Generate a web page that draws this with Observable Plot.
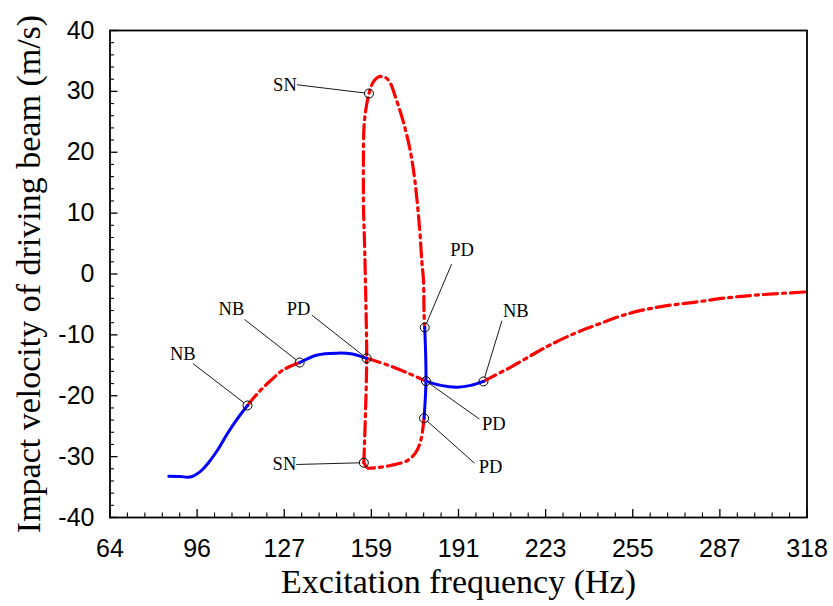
<!DOCTYPE html>
<html>
<head>
<meta charset="utf-8">
<script src="https://cdn.jsdelivr.net/npm/d3@7"></script>
<script src="https://cdn.jsdelivr.net/npm/@observablehq/plot@0.6"></script>
<style>
  html, body { margin: 0; padding: 0; background: #ffffff; }
  svg { display: block; }
</style>
</head>
<body>
<script>
// ---- Data (frequency in Hz, impact velocity in m/s) ----
// Main branch
const mainStable1 = [[85.16,-33.22],[89.44,-33.27],[91.89,-33.38],[93.71,-33.27],[95.54,-32.82],[97.37,-32.16],[99.78,-30.92],[102.86,-28.99],[106.51,-26.25],[110.17,-23.79],[113.9,-21.6]];
const mainUnstable1 = [[113.9,-21.6],[117.6,-19.6],[122.35,-17.5],[127.1,-15.7],[132.95,-14.55]];
const mainStable2 = [[132.95,-14.55],[139.4,-13.3],[146.7,-13.0],[151.6,-13.1],[157.44,-13.85]];
const mainUnstable2 = [[157.44,-13.85],[164.75,-14.9],[172.1,-16.2],[179.1,-17.6]];
const mainStable3 = [[179.1,-17.6],[184.5,-18.3],[190.6,-18.6],[195.5,-18.3],[200.1,-17.65]];
const mainUnstable3 = [[200.1,-17.65],[203.4,-16.85],[210.1,-15.3],[218.6,-13.1],[224.7,-11.6],[233.2,-9.8],[240.6,-8.5],[252.8,-6.55],[265.0,-5.35],[277.1,-4.65],[289.3,-3.9],[301.5,-3.4],[317.6,-2.95]];
// Isolated loop
const loopUnstable1 = [[156.4,-31.0],[157.0,-22.9],[157.44,-13.85],[157.1,-3.8],[156.6,6.0],[156.3,10.4],[156.25,18.6],[156.45,24.1],[157.1,26.9],[158.28,29.65],[159.5,31.25],[160.75,32.05],[162.55,32.45],[164.4,32.25],[166.2,31.25],[167.4,29.8],[170.5,25.5],[173.2,20.6],[175.0,15.5],[176.8,7.3],[177.6,2.0],[178.2,-1.1],[178.4,-6.5],[178.65,-8.8]];
const loopStable = [[178.65,-8.8],[179.1,-17.6],[178.4,-23.7]];
const loopUnstable2 = [[178.4,-23.7],[177.2,-27.35],[175.4,-29.3],[172.3,-30.65],[166.2,-31.45],[160.1,-31.85],[157.7,-31.85],[156.4,-31.0]];

// Bifurcation points and annotations
const bifType   = ["NB","NB","PD","SN","SN","PD","NB","PD","PD"];
const bifFreq   = [113.9, 132.95, 157.44, 158.28, 156.4, 178.65, 200.1, 179.1, 178.4];
const bifVel    = [-21.6, -14.55, -13.85, 29.65, -31.0, -8.8, -17.65, -17.6, -23.7];
const labelFreq = [90.24, 108.01, 132.58, 127.57, 127.39, 192.29, 211.92, 203.88, 202.67];
const labelVel  = [-13.14, -5.78, -5.78, 31.05, -31.18, 3.86, -6.05, -24.67, -31.67];
const leaderFreq= [94.08, 112.95, 137.59, 132.11, 131.85, 188.41, 206.8, 198.5, 196.68];
const leaderVel = [-14.75, -7.52, -6.82, 31.08, -31.29, 1.56, -7.75, -23.79, -31.02];

// Axes: ticks are at 400..2000 rad/s, labelled in Hz
const omegaTicks = [400, 600, 800, 1000, 1200, 1400, 1600, 1800, 2000];
const xTickLabels = ["64","96","127","159","191","223","255","287","318"];
const yTicks = [-40, -30, -20, -10, 0, 10, 20, 30, 40];

const xTitle = "Excitation frequency (Hz)";
const yTitle = "Impact velocity of driving beam (m/s)";

// ---- Build tables ----
const TWO_PI = 2 * Math.PI;
const xMajor = omegaTicks.map(w => w / TWO_PI);
const xMinor = d3.range(400, 2001, 40).filter(w => !omegaTicks.includes(w)).map(w => w / TWO_PI);
const yMinor = d3.range(-40, 41, 2).filter(v => !yTicks.includes(v));

const segs = [
  ["s1", "stable", mainStable1], ["u1", "unstable", mainUnstable1],
  ["s2", "stable", mainStable2], ["u2", "unstable", mainUnstable2],
  ["s3", "stable", mainStable3], ["u3", "unstable", mainUnstable3],
  ["lu1", "unstable", loopUnstable1], ["ls", "stable", loopStable],
  ["lu2", "unstable", loopUnstable2]
];
const rows = segs.flatMap(([id, kind, pts]) => pts.map(([f, v]) => ({id, kind, f, v})));
const stableRows = rows.filter(d => d.kind === "stable");
const unstableRows = rows.filter(d => d.kind === "unstable");

const bif = bifType.map((t, i) => ({
  t, f: bifFreq[i], v: bifVel[i],
  lf: labelFreq[i], lv: labelVel[i],
  kf: leaderFreq[i], kv: leaderVel[i]
}));

const xDomain = [400 / TWO_PI, 2000 / TWO_PI];
const yDomain = [-40, 40];

const chart = Plot.plot({
  width: 833,
  height: 606,
  marginLeft: 109.5,
  marginRight: 26.5,
  marginTop: 30,
  marginBottom: 89,
  style: {background: "#ffffff", color: "#000000"},
  x: {domain: xDomain},
  y: {domain: yDomain},
  marks: [
    // tick labels
    Plot.axisX({
      ticks: xMajor, tickSize: 0, tickPadding: 22,
      tickFormat: (d, i) => xTickLabels[i],
      fontSize: 25, fontFamily: "Liberation Sans, Arial, sans-serif",
      label: null
    }),
    Plot.axisY({
      ticks: yTicks, tickSize: 0, tickPadding: 15.5,
      tickFormat: d => String(d),
      fontSize: 25, fontFamily: "Liberation Sans, Arial, sans-serif",
      label: null
    }),
    // inward ticks
    Plot.ruleX(xMajor, {x: d => d, y1: -40, y2: -40, insetTop: -8, stroke: "#000", strokeWidth: 1.3}),
    Plot.ruleX(xMinor, {x: d => d, y1: -40, y2: -40, insetTop: -4.5, stroke: "#000", strokeWidth: 1.1}),
    Plot.ruleY(yTicks, {y: d => d, x1: xDomain[0], x2: xDomain[0], insetRight: -8, stroke: "#000", strokeWidth: 1.3}),
    Plot.ruleY(yMinor, {y: d => d, x1: xDomain[0], x2: xDomain[0], insetRight: -4.5, stroke: "#000", strokeWidth: 1.1}),
    // curves
    Plot.line(unstableRows, {x: "f", y: "v", z: "id", stroke: "#ff0000", strokeWidth: 3.2,
      strokeDasharray: "14,5,3,5", curve: "catmull-rom"}),
    Plot.line(stableRows, {x: "f", y: "v", z: "id", stroke: "#0000ff", strokeWidth: 3,
      curve: "catmull-rom"}),
    // leader lines
    Plot.arrow(bif, {x1: "kf", y1: "kv", x2: "f", y2: "v", headLength: 0, insetEnd: 4.5,
      stroke: "#000", strokeWidth: 0.9}),
    // bifurcation markers
    Plot.dot(bif, {x: "f", y: "v", r: 4.5, stroke: "#000", strokeWidth: 1, fill: "none"}),
    Plot.text(bif, {x: "lf", y: "lv", text: "t", fontSize: 18.5,
      fontFamily: "Liberation Serif, Times New Roman, serif", fill: "#000"}),
    // frame
    Plot.frame({stroke: "#000", strokeWidth: 1.8}),
    // axis titles
    Plot.text([xTitle], {frameAnchor: "bottom", lineAnchor: "middle", textAnchor: "middle", dy: 65,
      text: d => d, fontSize: 34,
      fontFamily: "Liberation Serif, Times New Roman, serif", fill: "#000"}),
    Plot.text([yTitle], {frameAnchor: "left", lineAnchor: "middle", textAnchor: "middle", dx: -80.5,
      rotate: -90, text: d => d, fontSize: 34,
      fontFamily: "Liberation Serif, Times New Roman, serif", fill: "#000"})
  ]
});
document.body.appendChild(chart);
</script>
</body>
</html>
